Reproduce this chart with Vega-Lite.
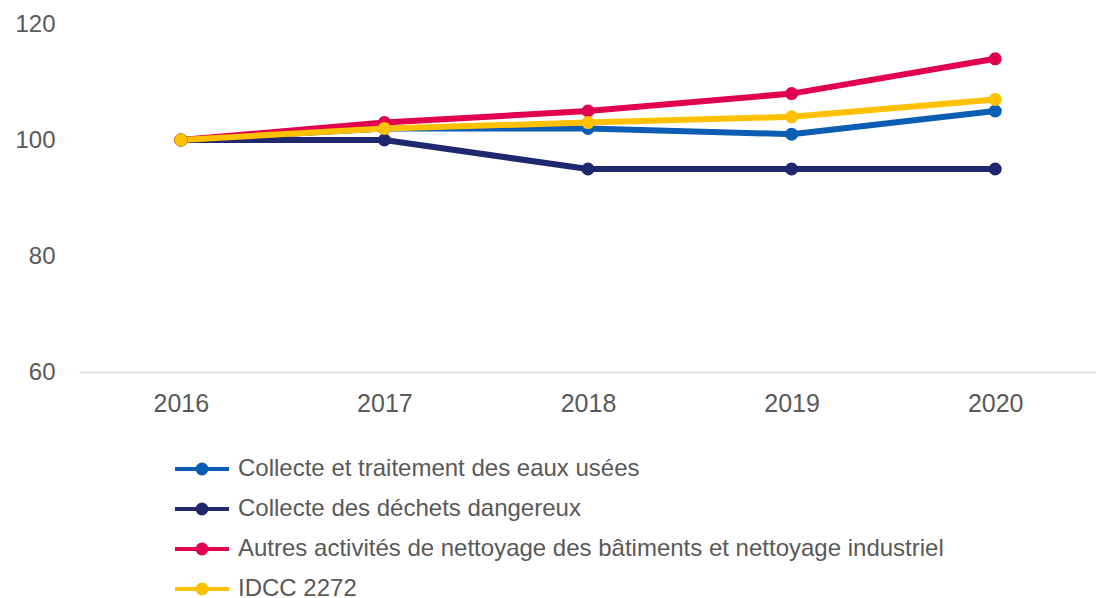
{
  "$schema": "https://vega.github.io/schema/vega-lite/v6.json",
  "autosize": {"type": "none"},
  "width": 1018,
  "height": 348,
  "padding": {"left": 79, "top": 24, "right": 0, "bottom": 226},
  "background": "white",
  "config": {
    "view": {"stroke": null},
    "font": "Liberation Sans"
  },
  "data": {
    "values": [
      {"year": "2016", "series": "Collecte et traitement des eaux usées", "value": 100},
      {"year": "2017", "series": "Collecte et traitement des eaux usées", "value": 102},
      {"year": "2018", "series": "Collecte et traitement des eaux usées", "value": 102},
      {"year": "2019", "series": "Collecte et traitement des eaux usées", "value": 101},
      {"year": "2020", "series": "Collecte et traitement des eaux usées", "value": 105},
      {"year": "2016", "series": "Collecte des déchets dangereux", "value": 100},
      {"year": "2017", "series": "Collecte des déchets dangereux", "value": 100},
      {"year": "2018", "series": "Collecte des déchets dangereux", "value": 95},
      {"year": "2019", "series": "Collecte des déchets dangereux", "value": 95},
      {"year": "2020", "series": "Collecte des déchets dangereux", "value": 95},
      {"year": "2016", "series": "Autres activités de nettoyage des bâtiments et nettoyage industriel", "value": 100},
      {"year": "2017", "series": "Autres activités de nettoyage des bâtiments et nettoyage industriel", "value": 103},
      {"year": "2018", "series": "Autres activités de nettoyage des bâtiments et nettoyage industriel", "value": 105},
      {"year": "2019", "series": "Autres activités de nettoyage des bâtiments et nettoyage industriel", "value": 108},
      {"year": "2020", "series": "Autres activités de nettoyage des bâtiments et nettoyage industriel", "value": 114},
      {"year": "2016", "series": "IDCC 2272", "value": 100},
      {"year": "2017", "series": "IDCC 2272", "value": 102},
      {"year": "2018", "series": "IDCC 2272", "value": 103},
      {"year": "2019", "series": "IDCC 2272", "value": 104},
      {"year": "2020", "series": "IDCC 2272", "value": 107}
    ]
  },
  "mark": {"type": "line", "strokeWidth": 6, "point": {"filled": true, "size": 170, "opacity": 1}, "clip": false},
  "encoding": {
    "x": {
      "field": "year", "type": "ordinal",
      "scale": {"type": "point", "padding": 0.5},
      "axis": {
        "title": null, "ticks": false, "domainColor": "#d9d9d9", "domainWidth": 1.5,
        "labelFontSize": 25, "labelColor": "#595959", "labelPadding": 19, "labelAngle": 0, "grid": false
      }
    },
    "y": {
      "field": "value", "type": "quantitative",
      "scale": {"domain": [60, 120], "nice": false, "zero": false},
      "axis": {
        "title": null, "ticks": false, "domain": false, "grid": false, "values": [60, 80, 100, 120],
        "labelFontSize": 24, "labelColor": "#595959", "labelPadding": 24
      }
    },
    "color": {
      "field": "series", "type": "nominal",
      "sort": ["Collecte et traitement des eaux usées", "Collecte des déchets dangereux", "Autres activités de nettoyage des bâtiments et nettoyage industriel", "IDCC 2272"],
      "scale": {
        "domain": ["Collecte et traitement des eaux usées", "Collecte des déchets dangereux", "Autres activités de nettoyage des bâtiments et nettoyage industriel", "IDCC 2272"],
        "range": ["#0B5EB4", "#1F286E", "#E0004F", "#FFC000"]
      },
      "legend": {
        "title": null, "orient": "none", "legendX": 111, "legendY": 433, "direction": "vertical",
        "padding": 0,
        "symbolType": "M-4.5,0H4.5M-0.75,0A0.75,0.75 0 1 1 0.75,0A0.75,0.75 0 1 1 -0.75,0Z",
        "symbolSize": 144, "symbolStrokeWidth": 4,
        "labelFontSize": 24, "labelColor": "#595959", "labelOffset": 24, "rowPadding": 14, "labelLimit": 0,
        "encode": {"symbols": {"update": {"fill": {"scale": "color", "field": "value"}, "stroke": {"scale": "color", "field": "value"}, "opacity": {"value": 1}, "fillOpacity": {"value": 1}}}}
      }
    }
  }
}
